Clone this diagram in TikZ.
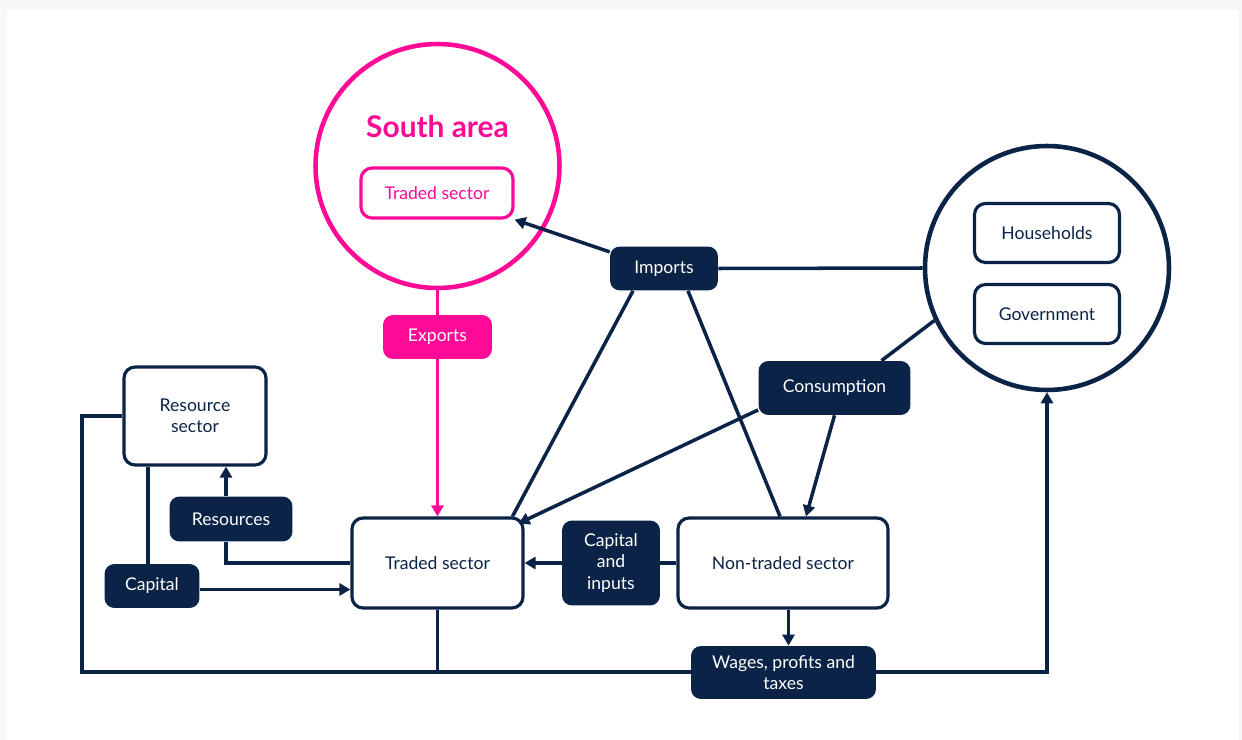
\documentclass[tikz,border=0pt]{standalone}
\usepackage{fontspec}
\setmainfont{Lato}
\usetikzlibrary{arrows.meta}
\definecolor{navy}{HTML}{0B2347}
\definecolor{hotpink}{HTML}{FF0A96}
\definecolor{pagegray}{HTML}{F7F7F7}
\begin{document}
\begin{tikzpicture}[x=0.02cm,y=-0.02cm,
  font=\fontsize{10}{12}\selectfont,
  line/.style={navy,line width=2pt},
  arr/.style={line,-{Triangle[length=0.22cm,width=0.24cm]}},
  pinkline/.style={hotpink,line width=2pt},
  pinkarr/.style={pinkline,-{Triangle[length=0.22cm,width=0.24cm]}},
  whitebox/.style={draw=navy,line width=1.8pt,fill=white,rounded corners=0.22cm,text=navy,align=center,inner sep=0pt},
  darkbox/.style={fill=navy,rounded corners=0.2cm,text=white,align=center,inner sep=0pt},
  ring/.style={circle,draw=#1,line width=2.6pt,fill=white,inner sep=0pt,minimum size=4.88cm}]

\fill[pagegray] (0,0) rectangle (1242,740);
\fill[white] (7,10) rectangle (1238,740);

\node[ring=hotpink] (south) at (437.5,166) {};
\node[text=hotpink,font=\fontsize{17}{20}\selectfont\bfseries] (southlbl) at (437.5,127) {South area};
\node[whitebox,draw=hotpink,text=hotpink,minimum width=3.04cm,minimum height=1cm] (sttrade) at (437,193) {Traded sector};
\node[darkbox,fill=hotpink,minimum width=2.18cm,minimum height=0.88cm] (exports) at (437.5,337) {Exports};

\node[ring=navy] (agents) at (1047,268) {};
\node[whitebox,minimum width=2.9cm,minimum height=1.18cm] (house) at (1047,233) {Households};
\node[whitebox,minimum width=2.9cm,minimum height=1.18cm] (gov) at (1047,314) {Government};

\node[darkbox,minimum width=2.16cm,minimum height=0.88cm] (imports) at (664,268.5) {Imports};
\node[darkbox,minimum width=3.04cm,minimum height=1.08cm] (cons) at (834.5,388) {Consumption};

\node[whitebox,minimum width=3.42cm,minimum height=1.8cm] (traded) at (437.5,563) {Traded sector};
\node[whitebox,minimum width=4.2cm,minimum height=1.8cm] (nontraded) at (783,563) {Non-traded sector};
\node[darkbox,minimum width=1.96cm,minimum height=1.7cm] (capin) at (611,563) {Capital\\and\\inputs};
\node[whitebox,minimum width=2.84cm,minimum height=1.96cm] (ressec) at (195,416) {Resource\\sector};
\node[darkbox,minimum width=2.46cm,minimum height=0.9cm] (res) at (231,519) {Resources};
\node[darkbox,minimum width=1.9cm,minimum height=0.88cm] (cap) at (152,586) {Capital};

\coordinate (loopl) at (82,672);
\coordinate (loopr) at (1047,672);

\draw[pinkline] (south.south) -- (exports.north);
\draw[pinkarr] (exports.south) -- (traded.north);

\draw[arr] (imports.163) -- (sttrade.south east);
\draw[line] (imports.east) -- (agents.west);
\draw[line] ([xshift=-0.62cm]imports.south) -- ([xshift=1.5cm]traded.north);
\draw[line] ([xshift=0.48cm]imports.south) -- ([xshift=-0.06cm]nontraded.north);

\draw[line] ([xshift=0.94cm]cons.north) -- (agents.205);
\draw[arr] (cons.196) -- ([xshift=-0.12cm,yshift=-0.14cm]traded.north east);
\draw[arr] (cons.south) -- ([xshift=0.46cm]nontraded.north);

\draw[line] (nontraded.west) -- (capin.east);
\draw[arr] (capin.west) -- (traded.east);

\draw[arr] ([xshift=-0.1cm]res.north) -- ([xshift=-0.1cm]res.north |- ressec.south);
\draw[line] ([xshift=-0.1cm]res.south) |- (traded.west);
\draw[line] ([xshift=-0.08cm]cap.north) -- ([xshift=-0.08cm]cap.north |- ressec.south);
\draw[arr] ([yshift=-0.07cm]cap.east) -- ([yshift=-0.07cm]cap.east -| traded.west);

\draw[arr] (ressec.west) -| (loopl) -- (loopr) -- (agents.south);
\draw[line] (traded.south) -- (traded.south |- loopl);

\node[darkbox,minimum width=3.7cm,minimum height=1.06cm] (wages) at (783.5,672.5) {Wages, profits and\\taxes};
\draw[arr] ([xshift=0.11cm]nontraded.south) -- ([xshift=0.11cm]nontraded.south |- wages.north);

\end{tikzpicture}
\end{document}
